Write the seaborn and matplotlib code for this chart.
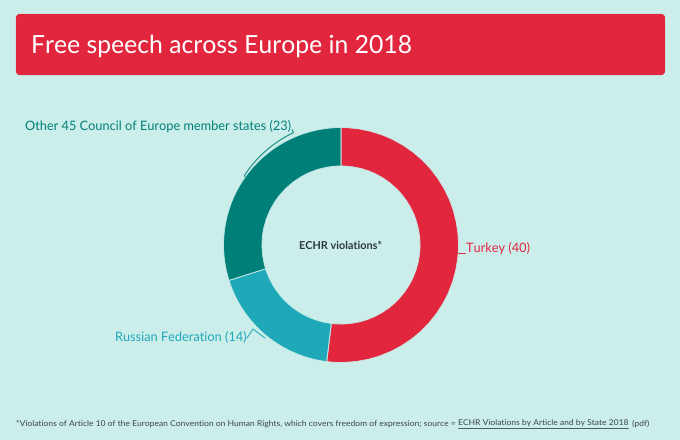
#!/usr/bin/env python3
# -*- coding: utf-8 -*-
"""
Free speech across Europe in 2018, ECHR violations donut
"""
# =============================================================================
import numpy as np
import seaborn as sns
import matplotlib.pyplot as plt
from matplotlib.patches import FancyBboxPatch
# =============================================================================
# Data

lstNames  = ['Turkey', 'Russian Federation', 'Other 45 Council of Europe member states']
lstValues = [40, 14, 23]
lstColors = ['#E2263D', '#1FA8B8', '#007F78']

strTitle  = 'Free speech across Europe in 2018'
strCentre = 'ECHR violations*'
strNote   = ('*Violations of Article 10 of the European Convention on Human Rights, '
             'which covers freedom of expression; source = ')
strLink   = 'ECHR Violations by Article and by State 2018'
strPdf    = ' (pdf)'

# =============================================================================
# Layout, all in pixels from the top left

varW, varH = 680, 440
varCx, varCy = 341, 245
varR = 117.5
varHole = 79
strBg = '#CBEEEB'
strBody = 'Lato'

sns.set_theme(style='white', rc={'figure.facecolor': strBg, 'axes.facecolor': strBg})
plt.rcParams['font.family'] = [strBody, 'DejaVu Sans']
# no hinting, so the long footnote scales evenly with its size
plt.rcParams['text.hinting'] = 'no_hinting'

fig = plt.figure(figsize=(varW / 100, varH / 100), dpi=100)
ax = fig.add_axes([0, 0, 1, 1])


def py(y):
    # pixel row to axes y
    return varH - y


# =============================================================================
# Header

ax.add_patch(FancyBboxPatch((18, py(73)), 645, 57, boxstyle='round,pad=0,rounding_size=2',
                            mutation_aspect=1, fc=lstColors[0], ec=lstColors[0], lw=3))
ax.text(31, py(46), strTitle, color='white', fontsize=17.8, va='center', ha='left')

# =============================================================================
# Donut

palette = sns.color_palette(lstColors)
ax.pie(lstValues, colors=palette, startangle=90, counterclock=False,
       center=(varCx, py(varCy)), radius=varR,
       wedgeprops={'width': varR - varHole, 'edgecolor': strBg, 'linewidth': 0.6})
ax.set_xlim(0, varW)
ax.set_ylim(0, varH)
ax.set_aspect('equal')
ax.axis('off')

ax.text(varCx, py(246), strCentre, color='#2B3A3A', fontsize=7.85,
        fontweight='bold', ha='center', va='center')

# =============================================================================
# Labels and their leader lines

varFsLab = 9.15
ax.text(466, py(248), f'{lstNames[0]} ({lstValues[0]})', color=lstColors[0], fontsize=varFsLab,
        ha='left', va='center')
ax.plot([458, 465], [py(252.5), py(252.5)], color=lstColors[0], lw=0.7)

ax.text(247, py(336.5), f'{lstNames[1]} ({lstValues[1]})', color=lstColors[1], fontsize=varFsLab,
        ha='right', va='center')
ax.plot([247, 253, 265], [py(338), py(329), py(338)], color=lstColors[1], lw=0.7)

ax.text(25, py(126), f'{lstNames[2]} ({lstValues[2]})', color=lstColors[2], fontsize=varFsLab,
        ha='left', va='center')
aryAng = np.deg2rad(np.linspace(-54, -23, 30))
aryRad = np.linspace(119, 122, 30)
aryX = varCx + aryRad * np.sin(aryAng)
aryY = varCy - aryRad * np.cos(aryAng)
ax.plot(np.r_[aryX[0], aryX, aryX[-1] - 1],
        [py(y) for y in np.r_[aryY[0] + 1.5, aryY, aryY[-1] - 3]],
        color=lstColors[2], lw=0.7)

# =============================================================================
# Footnote, three pieces so the link can be underlined

strFoot = '#3A4444'
varFs = 6.12
renderer = fig.canvas.get_renderer()
varX = 16
for strPiece, booLink in [(strNote, False), (strLink, True), (strPdf, False)]:
    txt = ax.text(varX, py(423), strPiece, color=strFoot, fontsize=varFs, ha='left', va='center')
    varEnd = txt.get_window_extent(renderer).x1
    if booLink:
        ax.plot([varX, varEnd], [py(428), py(428)], color=strFoot, lw=0.6)
    varX = varEnd + (1.5 if booLink else 0)

fig.savefig('out.png', dpi=100, facecolor=strBg)
